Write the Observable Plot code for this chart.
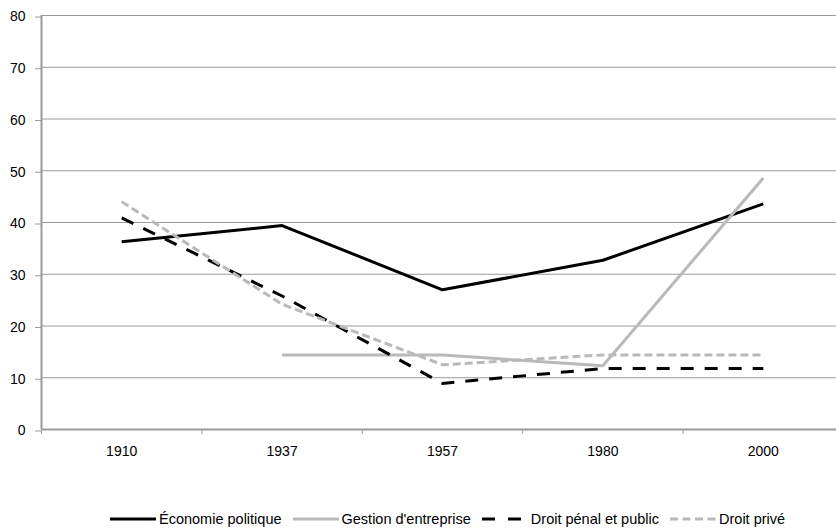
<!DOCTYPE html>
<html><head><meta charset="utf-8">
<script src="https://cdn.jsdelivr.net/npm/d3@7"></script>
<script src="https://cdn.jsdelivr.net/npm/@observablehq/plot@0.6"></script>
<style>
body{margin:0;background:#fff;font-family:"Liberation Sans",Arial,sans-serif;}
#legend{display:flex;justify-content:flex-start;align-items:center;font-size:14.5px;color:#000;padding-top:29px;height:19px;padding-left:110px}
#legend .item{display:flex;align-items:center;margin-right:11px;white-space:nowrap}
#legend svg{margin-right:3px}
</style></head>
<body><div id="chart"></div><div id="legend"></div>
<script>
const years = ["1910","1937","1957","1980","2000"];
const seriesNames = ["Économie politique","Gestion d'entreprise","Droit pénal et public","Droit privé"];
const economie = [36.3, 39.4, 27.0, 32.7, 43.6];
const gestion  = [null, 14.4, 14.4, 12.3, 48.6];
const penal    = [40.9, 25.8, 8.9, 11.8, 11.8];
const prive    = [44.0, 24.2, 12.5, 14.4, 14.4];
const yTicks = [0,10,20,30,40,50,60,70,80];

const styles = [
  {stroke:"#000000", dash:null},
  {stroke:"#b9b9b9", dash:null},
  {stroke:"#000000", dash:"13,11"},
  {stroke:"#b9b9b9", dash:"8,4"}
];
const values = [economie, gestion, penal, prive];
const rows = [];
values.forEach((arr, s) => arr.forEach((v, i) => rows.push({series: seriesNames[s], i, v})));

const idx = d3.range(years.length);
const bounds = d3.range(years.length + 1).map(i => i - 0.5);

const marks = [
  Plot.gridY(yTicks, {stroke:"#9a9a9a", strokeOpacity:1, strokeWidth:1}),
  Plot.axisY(yTicks, {tickSize:6, tickPadding:10, stroke:"#9a9a9a", fontSize:14, fill:"#000", dy:1.5, label:null}),
  Plot.axisX(bounds, {tickSize:5, tickFormat:() => "", stroke:"#9a9a9a", label:null}),
  Plot.axisX(idx, {tickSize:0, tickPadding:17, tickFormat: i => years[i], fontSize:14, fill:"#000", label:null}),
  Plot.ruleX([-0.5], {y1:0, y2:80, stroke:"#9a9a9a", strokeWidth:2}),
  Plot.ruleY([0], {stroke:"#9a9a9a", strokeWidth:2})
];
seriesNames.forEach((name, s) => {
  marks.push(Plot.line(rows.filter(r => r.series === name), {
    x:"i", y:"v", stroke: styles[s].stroke, strokeWidth:3,
    strokeDasharray: styles[s].dash || undefined, strokeLinejoin:"miter", strokeLinecap:"butt"
  }));
});

const chart = Plot.plot({
  width:836, height:480,
  marginLeft:41, marginRight:0, marginTop:15, marginBottom:51,
  style:{fontFamily:'"Liberation Sans",Arial,sans-serif', fontSize:"14px", background:"#fff"},
  x:{type:"linear", domain:[-0.5, years.length - 0.5], range:[41, 843], axis:null},
  y:{domain:[0,80], axis:null},
  marks
});
document.getElementById("chart").appendChild(chart);

const legendDash = ["", "", "13,13", "8,4.5"];
const legend = document.getElementById("legend");
seriesNames.forEach((name, s) => {
  const item = document.createElement("div");
  item.className = "item";
  const dash = legendDash[s];
  item.innerHTML = `<svg width="46" height="8"><line x1="0" y1="4" x2="46" y2="4" stroke="${styles[s].stroke}" stroke-width="3" ${dash ? `stroke-dasharray="${dash}"` : ""}/></svg><span>${name}</span>`;
  legend.appendChild(item);
});
</script></body></html>
